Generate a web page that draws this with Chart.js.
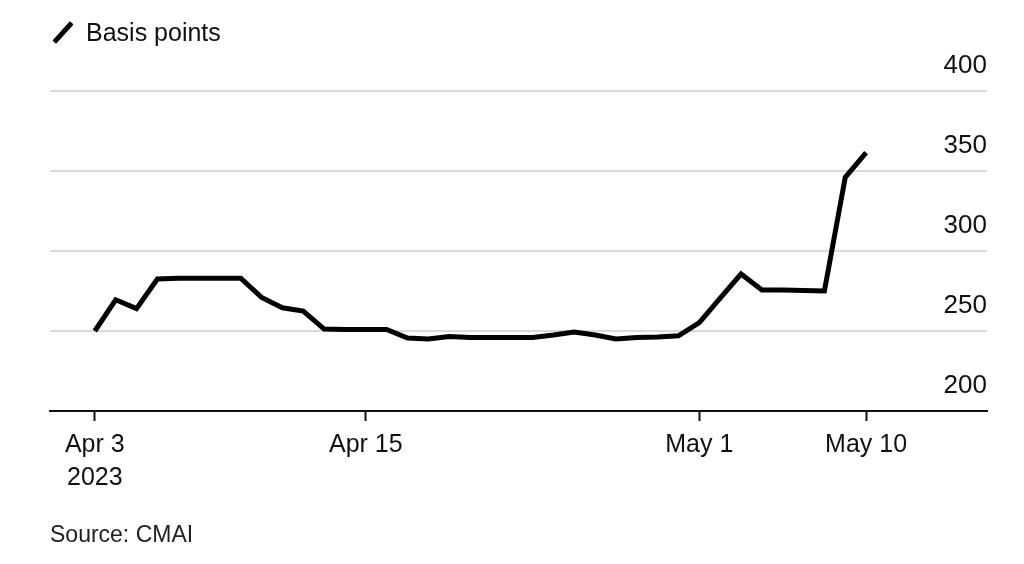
<!DOCTYPE html>
<html>
<head>
<meta charset="utf-8">
<script src="https://cdn.jsdelivr.net/npm/chart.js@4"></script>
<style>
  html, body { margin: 0; padding: 0; background: #fff; }
  body { width: 1024px; height: 564px; position: relative; overflow: hidden;
         font-family: "Liberation Sans", Arial, sans-serif; color: #111; }
  #chart { position: absolute; left: 0; top: 0; }
  .legend { position: absolute; left: 50px; top: 17px; font-size: 25px; line-height: 30px; }
  .legend .swatch { position: absolute; left: 0px; top: 13px; width: 26px; height: 5px;
                    background: #000; transform: rotate(-48deg); border-radius: 1px; }
  .legend span.txt { position: absolute; left: 36px; top: 0; white-space: nowrap; }
  .source { position: absolute; left: 50px; top: 521px; font-size: 23px; color: #222; white-space: nowrap; }
</style>
</head>
<body>
<canvas id="chart" width="1024" height="564"></canvas>
<div class="legend"><div class="swatch"></div><span class="txt">Basis points</span></div>
<div class="source">Source: CMAI</div>
<script>
// spread values, one per observation
const spreadValues = [
  250, 269.5, 264, 282.5, 283, 283, 283, 283, 271, 264.5,
  262.5, 251.2, 251, 251, 251, 245.6, 245, 246.5, 246, 246,
  246, 246, 247.5, 249.4, 247.5, 245, 246, 246.2, 247, 255.3,
  270.6, 285.6, 275.6, 275.6, 275.3, 275, 346, 361.5
];
// x-axis ticks: observation index and label
const tickPositions = [0, 13, 29, 37];
const tickLabels = [['Apr 3', '2023'], 'Apr 15', 'May 1', 'May 10'];
const yTicks = [200, 250, 300, 350, 400];

const ctx = document.getElementById('chart').getContext('2d');
const fontFamily = '"Liberation Sans", Arial, sans-serif';

new Chart(ctx, {
  type: 'line',
  data: {
    datasets: [{
      data: spreadValues.map((v, i) => ({ x: i, y: v })),
      borderColor: '#000',
      borderWidth: 5,
      pointRadius: 0,
      tension: 0,
      fill: false,
      borderJoinStyle: 'miter'
    }]
  },
  options: {
    responsive: false,
    animation: false,
    layout: { padding: { left: 50, right: 37, top: 91, bottom: 60 } },
    plugins: { legend: { display: false }, tooltip: { enabled: false } },
    scales: {
      x: {
        type: 'linear',
        min: -2.15,
        max: 42.8,
        afterBuildTicks: scale => { scale.ticks = tickPositions.map(v => ({ value: v })); },
        afterFit: scale => { scale.height = 93; },
        border: { display: true, color: '#111', width: 2 },
        grid: { drawOnChartArea: false, drawTicks: true, tickLength: 10, tickColor: '#111', tickWidth: 2 },
        ticks: {
          autoSkip: false,
          maxRotation: 0,
          padding: 7,
          color: '#111',
          font: { family: fontFamily, size: 25, lineHeight: 1.33 },
          callback: value => tickLabels[tickPositions.indexOf(value)]
        }
      },
      y: {
        position: 'right',
        min: 200,
        max: 400,
        afterBuildTicks: scale => { scale.ticks = yTicks.map(v => ({ value: v })); },
        border: { display: false },
        grid: {
          drawTicks: false,
          lineWidth: 2,
          color: c => (c.tick && c.tick.value === 200) ? 'rgba(0,0,0,0)' : '#dadada'
        },
        ticks: {
          mirror: true,
          padding: 0,
          labelOffset: -25,
          color: '#111',
          font: { family: fontFamily, size: 26 }
        }
      }
    }
  }
});
</script>
</body>
</html>
